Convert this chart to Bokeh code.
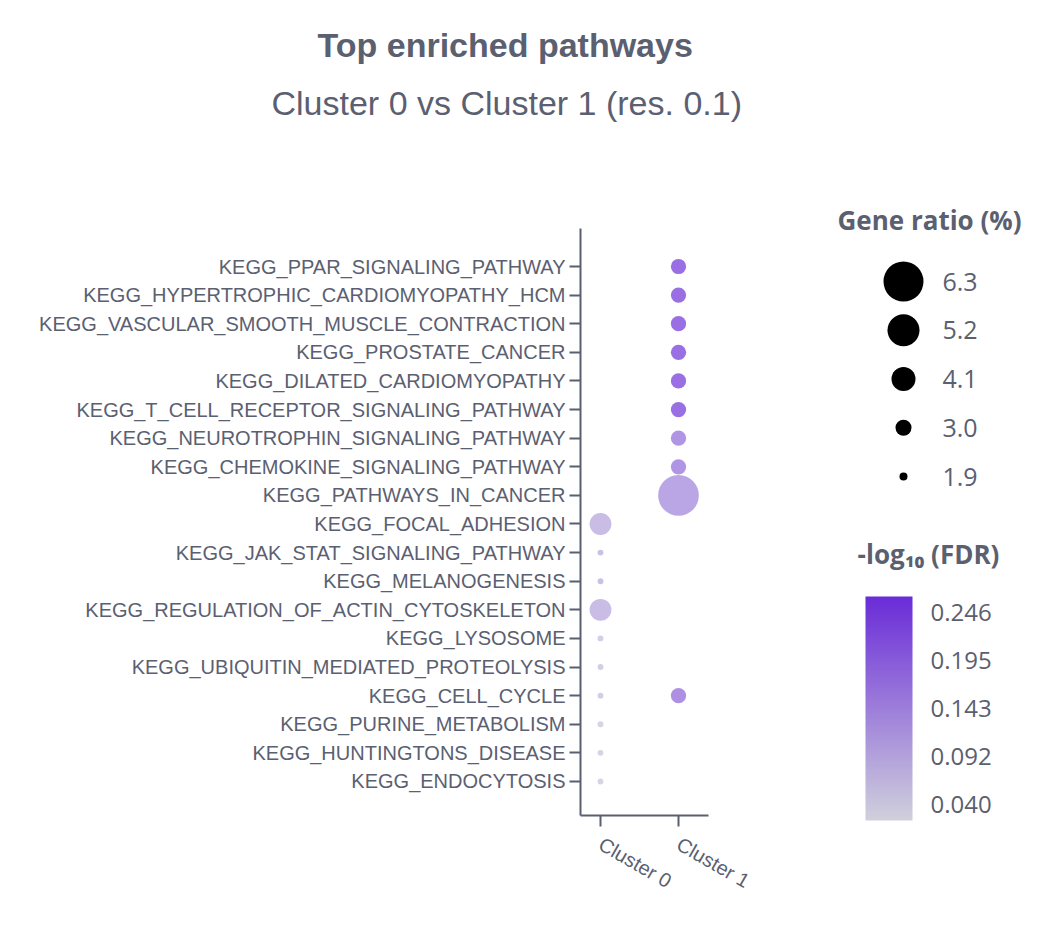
import math
from bokeh.plotting import figure
from bokeh.models import (Range1d, FixedTicker, ColumnDataSource, LinearColorMapper,
                          ColorBar, PrintfTickFormatter, Title)
from bokeh.embed import file_html
from bokeh.resources import INLINE
from bokeh.core.properties import value

# ---------------- data ----------------
pathways = [
    "KEGG_PPAR_SIGNALING_PATHWAY",
    "KEGG_HYPERTROPHIC_CARDIOMYOPATHY_HCM",
    "KEGG_VASCULAR_SMOOTH_MUSCLE_CONTRACTION",
    "KEGG_PROSTATE_CANCER",
    "KEGG_DILATED_CARDIOMYOPATHY",
    "KEGG_T_CELL_RECEPTOR_SIGNALING_PATHWAY",
    "KEGG_NEUROTROPHIN_SIGNALING_PATHWAY",
    "KEGG_CHEMOKINE_SIGNALING_PATHWAY",
    "KEGG_PATHWAYS_IN_CANCER",
    "KEGG_FOCAL_ADHESION",
    "KEGG_JAK_STAT_SIGNALING_PATHWAY",
    "KEGG_MELANOGENESIS",
    "KEGG_REGULATION_OF_ACTIN_CYTOSKELETON",
    "KEGG_LYSOSOME",
    "KEGG_UBIQUITIN_MEDIATED_PROTEOLYSIS",
    "KEGG_CELL_CYCLE",
    "KEGG_PURINE_METABOLISM",
    "KEGG_HUNTINGTONS_DISEASE",
    "KEGG_ENDOCYTOSIS",
]
clusters = ["Cluster 0", "Cluster 1"]

pt_pathway = [
    "KEGG_PPAR_SIGNALING_PATHWAY", "KEGG_HYPERTROPHIC_CARDIOMYOPATHY_HCM",
    "KEGG_VASCULAR_SMOOTH_MUSCLE_CONTRACTION", "KEGG_PROSTATE_CANCER",
    "KEGG_DILATED_CARDIOMYOPATHY", "KEGG_T_CELL_RECEPTOR_SIGNALING_PATHWAY",
    "KEGG_NEUROTROPHIN_SIGNALING_PATHWAY", "KEGG_CHEMOKINE_SIGNALING_PATHWAY",
    "KEGG_PATHWAYS_IN_CANCER", "KEGG_CELL_CYCLE",
    "KEGG_FOCAL_ADHESION", "KEGG_JAK_STAT_SIGNALING_PATHWAY", "KEGG_MELANOGENESIS",
    "KEGG_REGULATION_OF_ACTIN_CYTOSKELETON", "KEGG_LYSOSOME",
    "KEGG_UBIQUITIN_MEDIATED_PROTEOLYSIS", "KEGG_CELL_CYCLE",
    "KEGG_PURINE_METABOLISM", "KEGG_HUNTINGTONS_DISEASE", "KEGG_ENDOCYTOSIS",
]
pt_cluster = ["Cluster 1"] * 10 + ["Cluster 0"] * 10
pt_gene_ratio = [2.9, 2.9, 2.9, 2.9, 2.9, 2.9, 2.9, 2.9, 6.4, 2.9,
                 3.8, 1.6, 1.6, 3.8, 1.6, 1.6, 1.6, 1.6, 1.6, 1.6]
pt_neglog_fdr = [0.246, 0.246, 0.246, 0.246, 0.246, 0.246, 0.170, 0.170, 0.135, 0.180,
                 0.090, 0.085, 0.085, 0.090, 0.055, 0.055, 0.055, 0.045, 0.045, 0.040]

legend_ratios = [6.3, 5.2, 4.1, 3.0, 1.9]
cbar_ticks = [0.040, 0.092, 0.143, 0.195, 0.246]

title_text = "Top enriched pathways"
subtitle_text = "Cluster 0 vs Cluster 1 (res. 0.1)"
size_legend_title = "Gene ratio (%)"
color_legend_title = "-log\u2081\u2080 (FDR)"

# ---------------- layout constants (pixels) ----------------
W, H = 1040, 936
FRAME_L, FRAME_B = 580, 815          # y-axis line x, x-axis line y
FRAME_T = 134                         # top of plot frame (titles sit above it)
AX_TOP = 228                          # top end of the y-axis line
AX_RIGHT = 708                        # right end of the x-axis line
COL0_X, COL_STEP = 600, 78            # x of first cluster column, column spacing
ROW0_Y, ROW_STEP = 266, 28.61         # y of first pathway row, row spacing
TITLE_LEFT, SUB_LEFT = 317, 271       # left edges of title and subtitle

TXT = "#5b6071"
LOW_C = (208, 208, 220)
HIGH_C = (106, 44, 216)
palette = []
for i in range(256):
    t = i / 255
    palette.append("#%02x%02x%02x" % tuple(round(a + (b - a) * t) for a, b in zip(LOW_C, HIGH_C)))


def ratio_to_px(g):
    return 7.27 * g - 5.8


mapper = LinearColorMapper(palette=palette, low=0.0228, high=0.2632)

src = ColumnDataSource(dict(
    xi=[clusters.index(c) for c in pt_cluster],
    yi=[pathways.index(pw) for pw in pt_pathway],
    sz=[ratio_to_px(g) for g in pt_gene_ratio],
    fdr=pt_neglog_fdr,
    ratio=pt_gene_ratio,
))

x0 = (FRAME_L - COL0_X) / COL_STEP
x1 = x0 + (W - FRAME_L) / COL_STEP
y_bottom = (FRAME_B - ROW0_Y) / ROW_STEP
y_top = (FRAME_T - ROW0_Y) / ROW_STEP

p = figure(width=W, height=H, title=None,
           x_range=Range1d(x0, x1), y_range=Range1d(y_bottom, y_top),
           output_backend="svg", toolbar_location=None,
           min_border_left=FRAME_L, min_border_right=0,
           min_border_top=FRAME_T, min_border_bottom=H - FRAME_B)
p.xgrid.visible = False
p.ygrid.visible = False
p.outline_line_color = None
p.background_fill_color = "white"
p.border_fill_color = "white"

# pixel coordinate system for legends
p.extra_x_ranges = {"px": Range1d(FRAME_L, W)}
p.extra_y_ranges = {"px": Range1d(FRAME_B, FRAME_T)}

p.xaxis.ticker = FixedTicker(ticks=list(range(len(clusters))))
p.xaxis.major_label_overrides = {i: c for i, c in enumerate(clusters)}
p.xaxis.bounds = (x0, (AX_RIGHT - COL0_X) / COL_STEP)
p.yaxis.ticker = FixedTicker(ticks=list(range(len(pathways))))
p.yaxis.major_label_overrides = {i: pw for i, pw in enumerate(pathways)}
p.yaxis.bounds = ((AX_TOP - ROW0_Y) / ROW_STEP, y_bottom)

for ax in (p.xaxis[0], p.yaxis[0]):
    ax.axis_line_color = TXT
    ax.axis_line_width = 2
    ax.major_tick_line_color = TXT
    ax.major_tick_line_width = 2
    ax.major_tick_out = 11
    ax.major_tick_in = 0
    ax.minor_tick_line_color = None
    ax.major_label_text_font = "Liberation Sans"
    ax.major_label_text_font_size = "20px"
    ax.major_label_text_color = TXT
p.yaxis.major_label_standoff = 4
p.xaxis.major_label_standoff = 16
p.xaxis.major_label_orientation = -math.pi / 6

p.scatter(x="xi", y="yi", size="sz", source=src,
          fill_color={"field": "fdr", "transform": mapper},
          fill_alpha=0.72, line_color=None)

# titles in the panel above the frame (sub-title first = closest to frame)
p.add_layout(Title(text=subtitle_text, align="left", offset=SUB_LEFT - FRAME_L,
                   standoff=26, text_font="Liberation Sans", text_font_style="normal",
                   text_font_size="34px", text_color=TXT), "above")
p.add_layout(Title(text=title_text, align="left", offset=TITLE_LEFT - FRAME_L,
                   standoff=10, text_font="Liberation Sans", text_font_style="bold",
                   text_font_size="34px", text_color=TXT), "above")

# size legend
leg_y = [281 + i * 48.75 for i in range(len(legend_ratios))]
p.scatter(x=[903] * len(legend_ratios), y=leg_y, x_range_name="px", y_range_name="px",
          size=[ratio_to_px(g) for g in legend_ratios],
          fill_color="black", line_color=None)
p.text(x=[942] * len(legend_ratios), y=leg_y, x_range_name="px", y_range_name="px",
       text=["%.1f" % g for g in legend_ratios],
       text_font=value("Open Sans"), text_font_size="25px",
       text_baseline="middle", text_align="left", text_color=TXT)
p.text(x=[929], y=[219], text=[size_legend_title], x_range_name="px", y_range_name="px",
       text_align="center", text_baseline="middle", text_font=value("Open Sans"),
       text_font_style="bold", text_font_size="26px", text_color=TXT)

# colour legend
p.text(x=[928], y=[553], text=[color_legend_title], x_range_name="px", y_range_name="px",
       text_align="center", text_baseline="middle", text_font=value("Open Sans"),
       text_font_style="bold", text_font_size="26px", text_color=TXT)

cb = ColorBar(color_mapper=mapper, ticker=FixedTicker(ticks=cbar_ticks),
              formatter=PrintfTickFormatter(format="%.3f"),
              width=47, height=224, location=(865 - FRAME_L, FRAME_B - 820),
              padding=0, margin=0,
              label_standoff=18, major_tick_line_color=None,
              minor_tick_line_color=None,
              major_label_text_font="Open Sans", major_label_text_font_size="24px",
              major_label_text_color=TXT, bar_line_color=None,
              border_line_color=None, background_fill_alpha=0,
              orientation="vertical")
p.add_layout(cb, "center")

open("out.html", "w").write(file_html(p, INLINE))
